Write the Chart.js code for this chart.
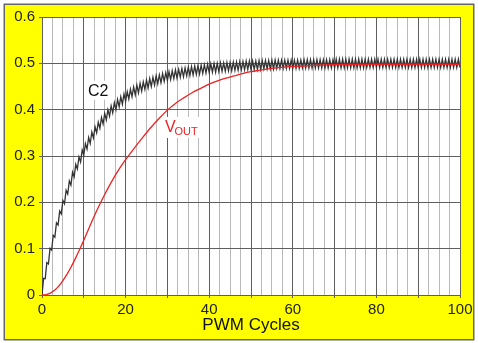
<!DOCTYPE html>
<html>
<head>
<meta charset="utf-8">
<title>PWM filter response</title>
<script src="https://cdn.jsdelivr.net/npm/chart.js@4/dist/chart.umd.min.js"></script>
<style>
  html, body { margin: 0; padding: 0; background: #fff; }
  canvas { display: block; }
</style>
</head>
<body>
<canvas id="pwm" width="478" height="343"></canvas>
<script>
// C2 ripple: the voltage at the start of each ripple period (valley)
// and half a period later (peak)
const rippleCount = 130
const c2Valleys = [
  0.000, 0.035, 0.067, 0.097, 0.125, 0.151, 0.175, 0.197, 0.218, 0.237,
  0.255, 0.272, 0.287, 0.302, 0.315, 0.327, 0.339, 0.350, 0.360, 0.369,
  0.378, 0.386, 0.393, 0.400, 0.406, 0.412, 0.418, 0.423, 0.428, 0.432,
  0.436, 0.440, 0.444, 0.447, 0.450, 0.453, 0.456, 0.458, 0.461, 0.463,
  0.465, 0.467, 0.468, 0.470, 0.471, 0.473, 0.474, 0.475, 0.476, 0.477,
  0.478, 0.479, 0.480, 0.481, 0.481, 0.482, 0.483, 0.483, 0.484, 0.484,
  0.485, 0.485, 0.486, 0.486, 0.487, 0.487, 0.487, 0.487, 0.487, 0.488,
  0.488, 0.488, 0.488, 0.489, 0.489, 0.489, 0.489, 0.489, 0.489, 0.489,
  0.489, 0.490, 0.490, 0.490, 0.490, 0.490, 0.490, 0.490, 0.490, 0.490,
  0.490, 0.490, 0.490, 0.490, 0.490, 0.490, 0.490, 0.490, 0.490, 0.490,
  0.490, 0.491, 0.491, 0.491, 0.491, 0.491, 0.491, 0.491, 0.491, 0.491,
  0.491, 0.491, 0.491, 0.491, 0.491, 0.491, 0.491, 0.491, 0.491, 0.491,
  0.491, 0.491, 0.491, 0.491, 0.491, 0.491, 0.491, 0.491, 0.491, 0.491,
  0.491
]
const c2Peaks = [
  0.036, 0.070, 0.101, 0.129, 0.156, 0.181, 0.204, 0.226, 0.246, 0.265,
  0.282, 0.298, 0.313, 0.327, 0.340, 0.352, 0.363, 0.373, 0.383, 0.392,
  0.400, 0.408, 0.415, 0.422, 0.428, 0.434, 0.439, 0.444, 0.449, 0.453,
  0.457, 0.460, 0.464, 0.467, 0.470, 0.473, 0.475, 0.478, 0.480, 0.482,
  0.484, 0.486, 0.487, 0.489, 0.490, 0.492, 0.493, 0.494, 0.495, 0.496,
  0.497, 0.498, 0.499, 0.500, 0.500, 0.501, 0.501, 0.502, 0.502, 0.503,
  0.503, 0.504, 0.504, 0.505, 0.505, 0.505, 0.505, 0.506, 0.506, 0.506,
  0.506, 0.507, 0.507, 0.507, 0.507, 0.507, 0.507, 0.507, 0.507, 0.507,
  0.507, 0.508, 0.508, 0.508, 0.508, 0.508, 0.508, 0.508, 0.508, 0.508,
  0.508, 0.509, 0.509, 0.509, 0.509, 0.509, 0.509, 0.509, 0.509, 0.509,
  0.509, 0.509, 0.509, 0.509, 0.509, 0.509, 0.509, 0.509, 0.509, 0.509,
  0.509, 0.509, 0.509, 0.509, 0.509, 0.509, 0.509, 0.509, 0.509, 0.509,
  0.509, 0.509, 0.509, 0.509, 0.509, 0.509, 0.509, 0.509, 0.509, 0.509
]

// filtered output
const voutCycles = [0, 1, 2, 3, 4, 5, 6, 7, 8, 9, 10, 11, 12, 13, 14, 15, 16, 17, 18, 19, 20,
  22, 24, 26, 28, 30, 32, 34, 36, 38, 40, 42, 44, 46, 48, 50, 52, 55, 58, 62, 66, 70, 80, 90, 100]
const voutVolts = [0, 0.001, 0.004, 0.010, 0.019, 0.031, 0.045, 0.061, 0.079, 0.098, 0.118,
  0.139, 0.160, 0.180, 0.199, 0.217, 0.234, 0.250, 0.265, 0.279, 0.292,
  0.316, 0.339, 0.361, 0.381, 0.399, 0.414, 0.426, 0.437, 0.446, 0.455, 0.462, 0.468,
  0.473, 0.478, 0.482, 0.485, 0.489, 0.492, 0.494, 0.496, 0.497, 0.498, 0.498, 0.498]

const xTickLabels = [0, 20, 40, 60, 80, 100]
const yTickLabels = ['0', '0.1', '0.2', '0.3', '0.4', '0.5', '0.6']

const MAJOR = '#5f5f5f'
const MINOR = '#b9b9b9'
const FONT = '"Liberation Sans", Arial, sans-serif'

const period = 100 / rippleCount
const c2Points = []
c2Peaks.forEach((peak, k) => {
  c2Points.push({x: k * period, y: c2Valleys[k]})
  c2Points.push({x: (k + 0.5) * period, y: peak})
})
c2Points.push({x: rippleCount * period, y: c2Valleys[rippleCount]})

const voutPoints = voutCycles.map((c, i) => ({x: c, y: voutVolts[i]}))

const isMajor = v => Math.abs(v / 10 - Math.round(v / 10)) < 1e-6

// yellow panel, frame and white plot area
const panel = {
  id: 'panel',
  beforeDraw(chart) {
    const {ctx, chartArea: a} = chart
    ctx.save()
    ctx.fillStyle = '#fff'
    ctx.fillRect(0, 0, chart.width, chart.height)
    ctx.fillStyle = '#ffff00'
    ctx.fillRect(4, 4, 470, 336)
    ctx.strokeStyle = '#666'
    ctx.lineWidth = 1.5
    ctx.strokeRect(4.25, 4.25, 469.5, 335.5)
    ctx.fillStyle = '#fff'
    ctx.fillRect(a.left, a.top, a.right - a.left, a.bottom - a.top)
    ctx.restore()
  }
}

// curve names, on small white patches over the grid
const curveLabels = {
  id: 'curveLabels',
  beforeDatasetsDraw(chart) {
    const {ctx, scales: {x, y}} = chart
    ctx.save()
    ctx.textBaseline = 'alphabetic'

    let px = x.getPixelForValue(11.0)
    let py = y.getPixelForValue(0.43)
    ctx.fillStyle = '#fff'
    ctx.fillRect(px - 2, py - 15, 26, 19)
    ctx.fillStyle = '#111'
    ctx.font = '16px ' + FONT
    ctx.fillText('C2', px, py)

    px = x.getPixelForValue(29.4)
    py = y.getPixelForValue(0.352)
    ctx.fillStyle = '#fff'
    ctx.fillRect(px - 2, py - 15, 37, 21)
    ctx.fillStyle = '#ee2222'
    ctx.font = '16px ' + FONT
    ctx.fillText('V', px, py)
    const vw = ctx.measureText('V').width
    ctx.font = '11px ' + FONT
    ctx.fillText('OUT', px + vw - 1, py + 3)
    ctx.restore()
  }
}

new Chart(document.getElementById('pwm'), {
  type: 'line',
  data: {
    datasets: [
      {
        label: 'VOUT',
        data: voutPoints,
        borderColor: '#ee2222',
        borderWidth: 1.3,
        pointRadius: 0,
        cubicInterpolationMode: 'monotone'
      },
      {
        label: 'C2',
        data: c2Points,
        borderColor: '#333',
        borderWidth: 1.3,
        pointRadius: 0,
        tension: 0
      }
    ]
  },
  options: {
    responsive: false,
    animation: false,
    devicePixelRatio: 1,
    layout: {padding: {left: 0, top: 17, right: 18, bottom: 0}},
    plugins: {legend: {display: false}, tooltip: {enabled: false}},
    events: [],
    scales: {
      x: {
        type: 'linear',
        min: 0,
        max: 100,
        afterFit(scale) { scale.height = 48 },
        ticks: {
          stepSize: 2.5,
          autoSkip: false,
          maxRotation: 0,
          padding: 3,
          color: '#222',
          font: {family: FONT, size: 15},
          callback: v => xTickLabels.includes(Math.round(v)) && isMajor(v) ? String(Math.round(v)) : ''
        },
        grid: {
          color: c => isMajor(c.tick.value) ? MAJOR : MINOR,
          tickColor: c => isMajor(c.tick.value) ? MAJOR : 'rgba(0,0,0,0)',
          tickLength: 3,
          lineWidth: 1
        },
        border: {color: MAJOR, width: 1},
        title: {
          display: true,
          text: 'PWM Cycles',
          color: '#111',
          font: {family: FONT, size: 17},
          padding: {top: 0, bottom: 7}
        }
      },
      y: {
        min: 0,
        max: 0.6,
        afterFit(scale) { scale.width = 42 },
        ticks: {
          stepSize: 0.1,
          padding: 4,
          color: '#222',
          font: {family: FONT, size: 15},
          callback: v => yTickLabels[Math.round(v * 10)]
        },
        grid: {color: MAJOR, tickColor: MAJOR, tickLength: 3, lineWidth: 1},
        border: {color: MAJOR, width: 1}
      }
    }
  },
  plugins: [panel, curveLabels]
})
</script>
</body>
</html>
